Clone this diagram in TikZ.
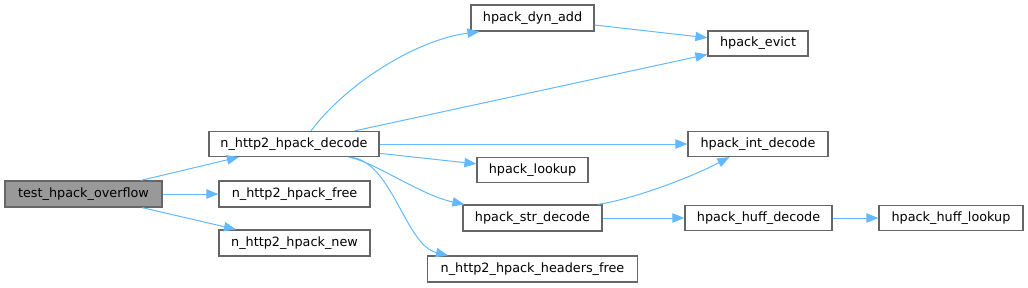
\documentclass[tikz,border=0pt]{standalone}
\usepackage{fontspec}
\setmainfont{DejaVu Sans}
\usetikzlibrary{arrows.meta,calc}
\definecolor{edgeblue}{HTML}{63B8FF}
\definecolor{boxgray}{HTML}{666666}
\definecolor{fillgray}{HTML}{999999}
\begin{document}
\begin{tikzpicture}[x=0.75pt,y=-0.75pt,
  fn/.style 2 args={draw=boxgray,line width=0.9pt,fill=white,inner sep=0pt,
    minimum width=#1*0.75pt,minimum height=#2*0.75pt,
    font=\fontsize{9.6pt}{11pt}\selectfont},
  cur/.style={fill=fillgray},
  edge/.style={draw=edgeblue,line width=0.75pt,
    -{Triangle[length=9pt,width=7pt]}}]
\useasboundingbox (0,0) rectangle (1028,287);
% nodes
\node[fn={157}{26},cur] (test) at (83.5,194) {test\_hpack\_overflow};
\node[fn={170}{25}] (decode) at (294,144) {n\_http2\_hpack\_decode};
\node[fn={151}{26}] (free) at (294.5,194) {n\_http2\_hpack\_free};
\node[fn={151}{26}] (new) at (294.5,243) {n\_http2\_hpack\_new};
\node[fn={123}{26}] (dyn) at (532.5,18) {hpack\_dyn\_add};
\node[fn={100}{25}] (evict) at (758,43.5) {hpack\_evict};
\node[fn={140}{25}] (int) at (758,144) {hpack\_int\_decode};
\node[fn={111}{25}] (lookup) at (532.5,170) {hpack\_lookup};
\node[fn={139}{26}] (str) at (532.5,218) {hpack\_str\_decode};
\node[fn={147}{25}] (huff) at (758.5,218) {hpack\_huff\_decode};
\node[fn={144}{25}] (hlook) at (951,218) {hpack\_huff\_lookup};
\node[fn={210}{26}] (hfree) at (532.5,269) {n\_http2\_hpack\_headers\_free};
% edges
\draw[edge] (test) -- (decode);
\draw[edge] (test) -- (free);
\draw[edge] (test) -- (new);
\draw[edge] ($(decode.north)+(17,0)$) .. controls (345,85) and (415,40) .. ($(dyn.south west)+(9,0)$);
\draw[edge] (decode) -- (evict);
\draw[edge] (dyn) -- (evict);
\draw[edge] (decode) -- (int);
\draw[edge] (decode) -- (lookup);
\draw[edge] ($(decode.south east)+(-31,0)$) .. controls (375,162) and (420,195) .. ($(str.north west)+(2,0)$);
\draw[edge] ($(decode.south east)+(-30,0)$) .. controls (392,160) and (405,245) .. ($(hfree.north west)+(21,0)$);
\draw[edge] ($(str.north east)+(-5,0)$) .. controls (630,200) and (690,178) .. ($(int.south west)+(42,0)$);
\draw[edge] (str) -- (huff);
\draw[edge] (huff) -- (hlook);
\end{tikzpicture}
\end{document}
